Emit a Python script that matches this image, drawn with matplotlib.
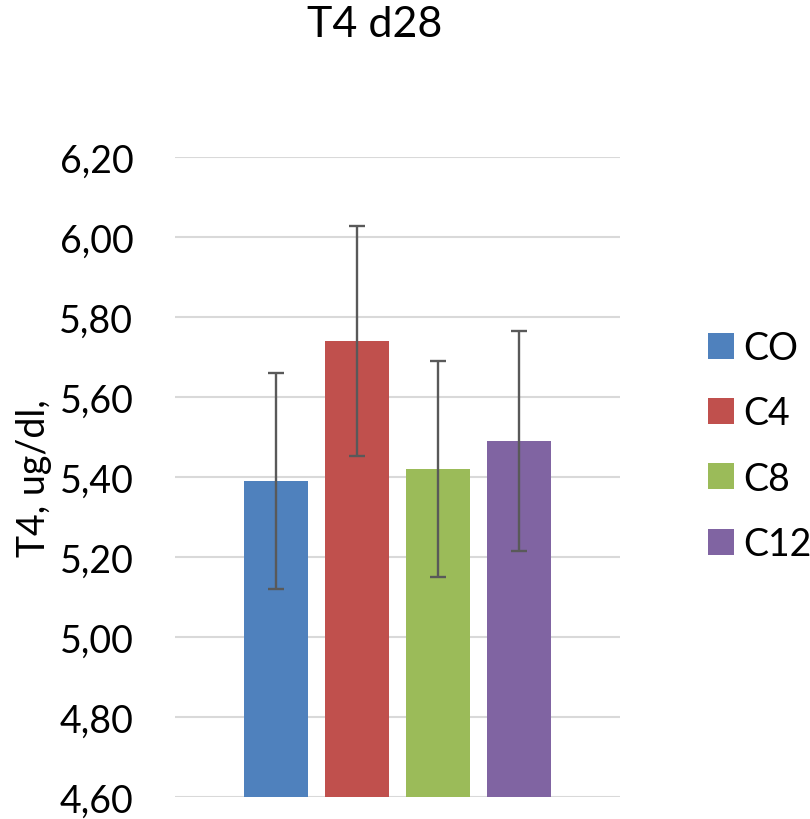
import matplotlib
matplotlib.use("Agg")
import matplotlib.pyplot as plt
from matplotlib.ticker import FixedLocator

series = ["CO", "C4", "C8", "C12"]
values = [5.39, 5.74, 5.42, 5.49]
errors = [0.27, 0.287, 0.271, 0.275]
colors = ["#4F81BD", "#C0504D", "#9BBB59", "#8064A2"]
yticks = [4.60, 4.80, 5.00, 5.20, 5.40, 5.60, 5.80, 6.00, 6.20]
ytick_labels = ["4,60", "4,80", "5,00", "5,20", "5,40", "5,60", "5,80", "6,00", "6,20"]
title = "T4 d28"
ylabel = "T4, ug/dl,"

plt.rcParams['font.family'] = ['Lato', 'DejaVu Sans']

fig = plt.figure(figsize=(8.1, 8.2), dpi=100)
ax = fig.add_axes([175/810, 22/820, 445/810, 640/820])

x = list(range(len(series)))
for i in x:
    ax.bar(i, values[i], width=0.79, color=colors[i], label=series[i], zorder=2)
    ax.errorbar(i, values[i], yerr=errors[i], fmt='none', ecolor="#595959",
                elinewidth=1.7, capsize=6, capthick=1.7, zorder=3)

ax.set_ylim(4.60, 6.20)
ax.set_xlim(-1.255, 4.255)
ax.yaxis.set_major_locator(FixedLocator(yticks))
ax.set_yticklabels(ytick_labels, fontsize=27)
ax.set_xticks([])
ax.tick_params(axis='y', length=0, pad=30)
ax.grid(axis='y', color="#D9D9D9", linewidth=1.5, zorder=0)
ax.set_axisbelow(True)
for s in ax.spines.values():
    s.set_visible(False)

ax.set_ylabel(ylabel, fontsize=27, labelpad=5)

fig.text(375/810, 1 - 37/820, title, ha='center', va='baseline', fontsize=31)

handles, labels = ax.get_legend_handles_labels()
leg = fig.legend(handles, labels, loc='center left', bbox_to_anchor=(708/810, 1 - 447/820),
                 frameon=False, fontsize=27, handlelength=0.69, handleheight=0.69,
                 labelspacing=0.78, handletextpad=0.24, borderpad=0, borderaxespad=0)

fig.savefig("out.png", dpi=100)
